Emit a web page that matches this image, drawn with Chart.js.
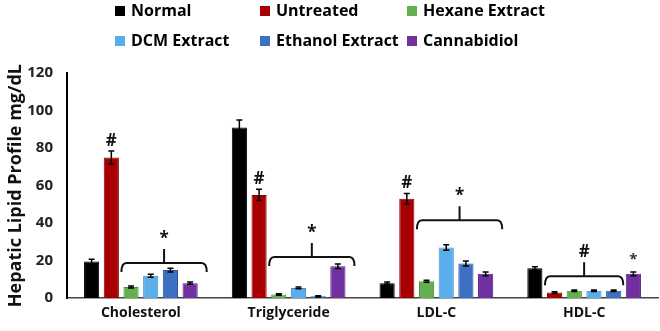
<!DOCTYPE html>
<html>
<head>
<meta charset="utf-8">
<script src="https://cdn.jsdelivr.net/npm/chart.js@4/dist/chart.umd.min.js"></script>
<style>
  html, body { margin: 0; padding: 0; background: #fff; }
  #wrap { width: 660px; height: 331px; position: relative; }
</style>
</head>
<body>
<div id="wrap"><canvas id="c"></canvas></div>
<script>
// Lipid parameters on the x axis
const categories = ['Cholesterol', 'Triglyceride', 'LDL-C', 'HDL-C'];

// Group names (mg/dL means, one value per lipid parameter)
const groupNames = ['Normal', 'Untreated', 'Hexane Extract', 'DCM Extract', 'Ethanol Extract', 'Cannabidiol'];
const normal     = [19.5, 91, 8, 16];
const untreated  = [75, 55, 53, 3];
const hexane     = [6, 2, 9, 4];
const dcm        = [12, 5.5, 27, 4];
const ethanol    = [15, 1, 18.5, 4];
const cannabidiol = [8, 17, 13, 13];

// Standard errors
const normalErr     = [1.2, 4, 0.6, 0.8];
const untreatedErr  = [3.5, 3, 2.8, 0.5];
const hexaneErr     = [0.5, 0.4, 0.5, 0.4];
const dcmErr        = [0.8, 0.5, 1.5, 0.4];
const ethanolErr    = [1, 0.3, 1.3, 0.4];
const cannabidiolErr = [0.6, 1.2, 1, 1];

// Y axis ticks
const yTicks = [0, 20, 40, 60, 80, 100, 120];

// Significance marks: '#' over single bars, brackets spanning groups
const hashMarks = [
  { cat: 0, series: 1, mark: '#' },
  { cat: 1, series: 1, mark: '#' },
  { cat: 2, series: 1, mark: '#' },
  { cat: 3, series: 5, mark: '*' }
];
const brackets = [
  { cat: 0, from: 2, to: 5, level: 18.7, mark: '*' },
  { cat: 1, from: 2, to: 5, level: 22, mark: '*' },
  { cat: 2, from: 2, to: 5, level: 41.6, mark: '*' },
  { cat: 3, from: 1, to: 4, level: 11.7, mark: '#' }
];

const seriesValues = [normal, untreated, hexane, dcm, ethanol, cannabidiol];
const seriesErrors = [normalErr, untreatedErr, hexaneErr, dcmErr, ethanolErr, cannabidiolErr];
const fills   = ['#000000', '#a80000', '#62b04f', '#5aaeea', '#3d6fc2', '#7030a0'];
const borders = ['#000000', '#8a0000', '#4a8c3a', '#3f8fcc', '#2b55a0', '#55207e'];

const FONT = '"Open Sans", "DejaVu Sans", sans-serif';

const errorBars = {
  id: 'errorBars',
  afterDatasetsDraw(chart) {
    const { ctx, scales: { y } } = chart;
    ctx.save();
    ctx.strokeStyle = '#000';
    ctx.lineWidth = 1.5;
    chart.data.datasets.forEach((ds, di) => {
      const meta = chart.getDatasetMeta(di);
      meta.data.forEach((bar, i) => {
        const v = ds.data[i], e = seriesErrors[di][i];
        const top = y.getPixelForValue(v + e), bot = y.getPixelForValue(v - e);
        const x = bar.x, cap = 3;
        ctx.beginPath();
        ctx.moveTo(x, top); ctx.lineTo(x, bot);
        ctx.moveTo(x - cap, top); ctx.lineTo(x + cap, top);
        ctx.moveTo(x - cap, bot); ctx.lineTo(x + cap, bot);
        ctx.stroke();
      });
    });
    ctx.restore();
  }
};

const significance = {
  id: 'significance',
  afterDatasetsDraw(chart) {
    const { ctx, scales: { y } } = chart;
    ctx.save();
    ctx.fillStyle = '#111';
    ctx.strokeStyle = '#111';
    ctx.textAlign = 'center';
    ctx.textBaseline = 'middle';
    hashMarks.forEach(h => {
      const bar = chart.getDatasetMeta(h.series).data[h.cat];
      const v = seriesValues[h.series][h.cat] + seriesErrors[h.series][h.cat];
      const star = h.mark === '*';
      ctx.font = 'bold ' + (star ? 15 : 17) + 'px ' + FONT;
      ctx.fillStyle = star ? '#333' : '#111';
      ctx.fillText(h.mark, bar.x, y.getPixelForValue(v) - (star ? 12 : 10));
    });
    ctx.fillStyle = '#111';
    ctx.font = 'bold 17px ' + FONT;
    ctx.lineWidth = 2;
    brackets.forEach(b => {
      const a = chart.getDatasetMeta(b.from).data[b.cat];
      const z = chart.getDatasetMeta(b.to).data[b.cat];
      const x0 = a.x - a.width / 2 - 2;
      const x1 = b.cat === 3 ? z.x + z.width / 2 + 2 : z.x + z.width / 2 + 9;
      const yy = y.getPixelForValue(b.level);
      const xm = (x0 + x1) / 2;
      ctx.beginPath();
      ctx.moveTo(x0, yy + 9);
      ctx.quadraticCurveTo(x0, yy, x0 + 5, yy);
      ctx.lineTo(x1 - 5, yy);
      ctx.quadraticCurveTo(x1, yy, x1, yy + 9);
      ctx.moveTo(xm, yy);
      ctx.lineTo(xm, yy - 14);
      ctx.stroke();
      ctx.fillText(b.mark, xm, yy - 24);
    });
    ctx.restore();
  }
};

const gridLegend = {
  id: 'gridLegend',
  afterDraw(chart) {
    const { ctx } = chart;
    const cols = [115, 260, 407], rows = [11, 41];
    ctx.save();
    ctx.font = 'bold 16px ' + FONT;
    ctx.textBaseline = 'middle';
    ctx.textAlign = 'left';
    chart.data.datasets.forEach((ds, i) => {
      const cx = cols[i % 3], cy = rows[Math.floor(i / 3)];
      ctx.fillStyle = ds.backgroundColor;
      ctx.fillRect(cx, cy - 5, 10, 10);
      ctx.fillStyle = '#000';
      ctx.fillText(ds.label, cx + 16, cy);
    });
    ctx.restore();
  }
};

new Chart(document.getElementById('c'), {
  type: 'bar',
  data: {
    labels: categories,
    datasets: groupNames.map((name, i) => ({
      label: name,
      data: seriesValues[i],
      backgroundColor: fills[i],
      borderColor: borders[i],
      borderWidth: 1,
      barPercentage: 0.77,
      categoryPercentage: 0.8
    }))
  },
  options: {
    responsive: true,
    maintainAspectRatio: false,
    animation: false,
    layout: { padding: { top: 73, right: 2, left: 0, bottom: 4 } },
    plugins: { legend: { display: false }, tooltip: { enabled: false } },
    scales: {
      x: {
        grid: { display: false, drawTicks: false },
        border: { color: '#444', width: 1.5 },
        ticks: { color: '#111', padding: 6, font: { family: FONT, size: 14, weight: 'bold' } }
      },
      y: {
        min: 0, max: 120,
        afterBuildTicks(axis) { axis.ticks = yTicks.map(v => ({ value: v })); },
        afterFit(axis) { axis.width = 67; },
        grid: { display: false, drawTicks: false },
        border: { color: '#000', width: 2 },
        ticks: { color: '#222', padding: 14, font: { family: FONT, size: 15, weight: 'bold' } },
        title: {
          display: true, text: 'Hepatic Lipid Profile mg/dL', color: '#111',
          padding: { top: 5, bottom: 0 },
          font: { family: FONT, size: 18, weight: 'bold' }
        }
      }
    }
  },
  plugins: [errorBars, significance, gridLegend]
});
</script>
</body>
</html>
